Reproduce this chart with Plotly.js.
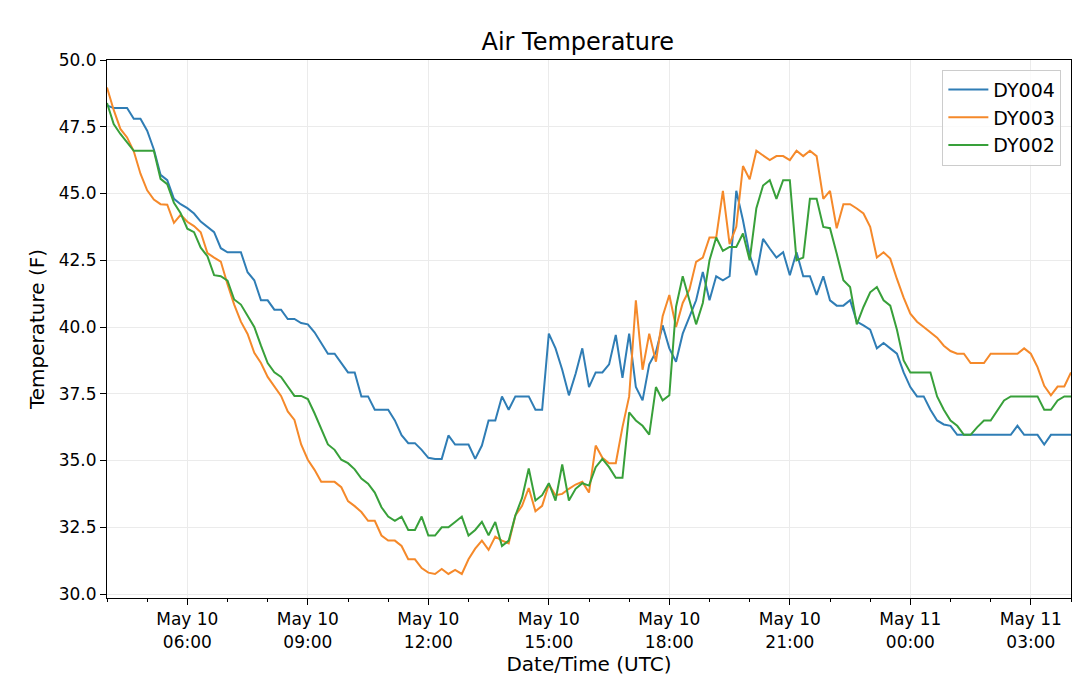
<!DOCTYPE html>
<html>
<head>
<meta charset="utf-8">
<script src="https://cdn.plot.ly/plotly-3.0.1.min.js"></script>
<style>
  body { margin: 0; background: #fff; }
  #chart { width: 1080px; height: 697px; }
</style>
</head>
<body>
<div id="chart"></div>
<script>
// readings every 10 minutes, starting May 10 04:00 UTC
const startTime = '2019-05-10T04:00:00Z'
const stepMinutes = 10

const dy004 = [
  48.3, 48.2, 48.2, 48.2, 47.8, 47.8, 47.35, 46.65, 45.7, 45.5,
  44.8, 44.6, 44.45, 44.25, 43.95, 43.75, 43.55, 42.95, 42.8, 42.8,
  42.8, 42.05, 41.75, 41.0, 41.0, 40.65, 40.65, 40.3, 40.3, 40.15,
  40.1, 39.8, 39.4, 39.0, 39.0, 38.65, 38.3, 38.3, 37.4, 37.4,
  36.9, 36.9, 36.9, 36.5, 35.95, 35.65, 35.65, 35.4, 35.1, 35.06,
  35.06, 35.94, 35.6, 35.6, 35.6, 35.06, 35.56, 36.5, 36.5, 37.4,
  36.9, 37.4, 37.4, 37.4, 36.9, 36.9, 39.75, 39.2, 38.4, 37.44,
  38.25, 39.2, 37.75, 38.3, 38.3, 38.6, 39.7, 38.1, 39.75, 37.75,
  37.25, 38.6, 39.06, 40.06, 39.2, 38.7, 39.75, 40.4, 41.0, 42.06,
  41.0, 41.9, 41.75, 41.9, 45.1, 44.0, 42.7, 41.94, 43.3, 42.94,
  42.6, 42.8, 41.94, 42.8, 41.9, 41.9, 41.2, 41.9, 41.0, 40.8,
  40.8, 41.0, 40.2, 40.06, 39.9, 39.2, 39.4, 39.2, 39.0, 38.3,
  37.75, 37.4, 37.4, 36.9, 36.5, 36.35, 36.3, 35.96, 35.96, 35.96,
  35.96, 35.96, 35.96, 35.96, 35.96, 35.96, 36.3, 35.96, 35.96, 35.96,
  35.6, 35.96, 35.96, 35.96, 35.96
]

const dy003 = [
  48.97, 48.13, 47.42, 47.1, 46.58, 45.74, 45.12, 44.77, 44.6, 44.58,
  43.9, 44.2, 43.94, 43.78, 43.55, 42.77, 42.6, 42.45, 41.6, 40.84,
  40.2, 39.74, 39.03, 38.65, 38.13, 37.77, 37.42, 36.84, 36.52, 35.6,
  35.03, 34.65, 34.2, 34.2, 34.2, 34.0, 33.48, 33.29, 33.07, 32.74,
  32.74, 32.19, 32.0, 32.0, 31.8, 31.3, 31.3, 30.97, 30.8, 30.75,
  30.94, 30.75, 30.9, 30.75, 31.3, 31.7, 32.0, 31.65, 32.15, 32.0,
  31.9, 32.94, 33.3, 33.97, 33.1, 33.3, 34.1, 33.7, 33.75, 33.94,
  34.1, 34.2, 33.8, 35.56, 35.1, 34.9, 34.9, 36.25, 37.4, 41.0,
  38.4, 39.75, 38.7, 40.4, 41.2, 40.0, 40.9, 41.4, 42.44, 42.6,
  43.35, 43.35, 45.1, 43.1, 43.75, 46.03, 45.53, 46.6, 46.44, 46.25,
  46.4, 46.4, 46.25, 46.6, 46.4, 46.6, 46.4, 44.8, 45.1, 43.7,
  44.6, 44.6, 44.44, 44.25, 43.75, 42.6, 42.8, 42.56, 41.8, 41.1,
  40.5, 40.2, 40.0, 39.8, 39.6, 39.3, 39.1, 39.0, 39.0, 38.65,
  38.65, 38.65, 39.0, 39.0, 39.0, 39.0, 39.0, 39.2, 39.0, 38.5,
  37.8, 37.44, 37.77, 37.77, 38.3
]

const dy002 = [
  48.39, 47.6, 47.23, 46.9, 46.6, 46.6, 46.6, 46.6, 45.55, 45.35,
  44.65, 44.26, 43.68, 43.55, 42.97, 42.65, 41.94, 41.9, 41.74, 41.03,
  40.84, 40.43, 40.0, 39.3, 38.65, 38.3, 38.13, 37.77, 37.42, 37.42,
  37.3, 36.77, 36.2, 35.6, 35.4, 35.03, 34.9, 34.67, 34.32, 34.13,
  33.8, 33.25, 32.9, 32.74, 32.9, 32.4, 32.4, 32.9, 32.19, 32.19,
  32.5, 32.5, 32.7, 32.9, 32.19, 32.4, 32.7, 32.2, 32.7, 31.8,
  32.0, 32.94, 33.6, 34.7, 33.5, 33.7, 34.15, 33.5, 34.85, 33.5,
  33.94, 34.15, 34.06, 34.75, 35.06, 34.75, 34.35, 34.35, 36.8, 36.5,
  36.3, 35.97, 37.75, 37.25, 37.44, 40.75, 41.9, 41.0, 40.1, 40.9,
  42.5, 43.35, 42.85, 43.0, 43.0, 43.5, 42.5, 44.45, 45.3, 45.5,
  44.8, 45.5, 45.5, 42.5, 42.6, 44.8, 44.8, 43.75, 43.7, 42.75,
  41.75, 41.5, 40.1, 40.75, 41.3, 41.5, 41.0, 40.8, 39.9, 38.75,
  38.3, 38.3, 38.3, 38.3, 37.4, 36.9, 36.5, 36.3, 35.96, 35.96,
  36.25, 36.5, 36.5, 36.9, 37.25, 37.4, 37.4, 37.4, 37.4, 37.4,
  36.9, 36.9, 37.25, 37.4, 37.4
]

const tickTimes = ['2019-05-10 06:00', '2019-05-10 09:00', '2019-05-10 12:00', '2019-05-10 15:00',
  '2019-05-10 18:00', '2019-05-10 21:00', '2019-05-11 00:00', '2019-05-11 03:00']
const tickLabels = ['May 10<br>06:00', 'May 10<br>09:00', 'May 10<br>12:00', 'May 10<br>15:00',
  'May 10<br>18:00', 'May 10<br>21:00', 'May 11<br>00:00', 'May 11<br>03:00']

function pad(n) { return String(n).padStart(2, '0') }

function timeAxis(count) {
  const t0 = new Date(startTime).getTime()
  return Array.from({ length: count }, (_, i) => {
    const d = new Date(t0 + i * stepMinutes * 60000)
    return `${d.getUTCFullYear()}-${pad(d.getUTCMonth() + 1)}-${pad(d.getUTCDate())} ${pad(d.getUTCHours())}:${pad(d.getUTCMinutes())}`
  })
}

const x = timeAxis(dy004.length)

const series = [
  { name: 'DY004', y: dy004, color: '#2f7db5' },
  { name: 'DY003', y: dy003, color: '#f5892a' },
  { name: 'DY002', y: dy002, color: '#38a03a' }
]

const plotlyData = series.map(s => ({
  x,
  y: s.y,
  type: 'scatter',
  mode: 'lines',
  name: s.name,
  line: { color: s.color, width: 2 }
}))

const font = { family: 'DejaVu Sans', color: '#000' }

const layout = {
  width: 1080,
  height: 697,
  margin: { l: 107, r: 9, t: 60, b: 99 },
  paper_bgcolor: '#fff',
  plot_bgcolor: '#fff',
  font: Object.assign({ size: 16 }, font),
  title: { text: 'Air Temperature', x: 0.535, xanchor: 'center', yref: 'container', y: 0.94, yanchor: 'middle', font: Object.assign({ size: 24 }, font) },
  showlegend: true,
  legend: {
    x: 0.99, xanchor: 'right', y: 0.982, yanchor: 'top',
    bordercolor: '#ccc', borderwidth: 1, bgcolor: 'rgba(255,255,255,0.8)',
    itemwidth: 40, tracegroupgap: 0,
    font: Object.assign({ size: 19 }, font)
  },
  xaxis: {
    type: 'date',
    range: [x[0], x[x.length - 1]],
    tickvals: tickTimes,
    ticktext: tickLabels,
    ticks: 'outside', ticklen: 6, tickcolor: '#000',
    minor: { dtick: 3600000, ticks: 'outside', ticklen: 3, tickcolor: '#000', showgrid: false },
    showgrid: true, gridcolor: '#ebebeb',
    showline: true, linecolor: '#000', mirror: true,
    zeroline: false,
    tickfont: Object.assign({ size: 17 }, font),
    title: { text: 'Date/Time (UTC)', font: Object.assign({ size: 20 }, font), standoff: 4 }
  },
  yaxis: {
    range: [29.85, 50.0],
    tickvals: [30, 32.5, 35, 37.5, 40, 42.5, 45, 47.5, 50],
    tickformat: '.1f',
    ticks: 'outside', ticklen: 6, tickcolor: '#000',
    showgrid: true, gridcolor: '#ebebeb',
    showline: true, linecolor: '#000', mirror: true,
    zeroline: false,
    tickfont: Object.assign({ size: 17 }, font),
    title: { text: 'Temperature (F)', font: Object.assign({ size: 20 }, font), standoff: 8 }
  }
}

Plotly.newPlot('chart', plotlyData, layout, { displayModeBar: false, staticPlot: true })
</script>
</body>
</html>
